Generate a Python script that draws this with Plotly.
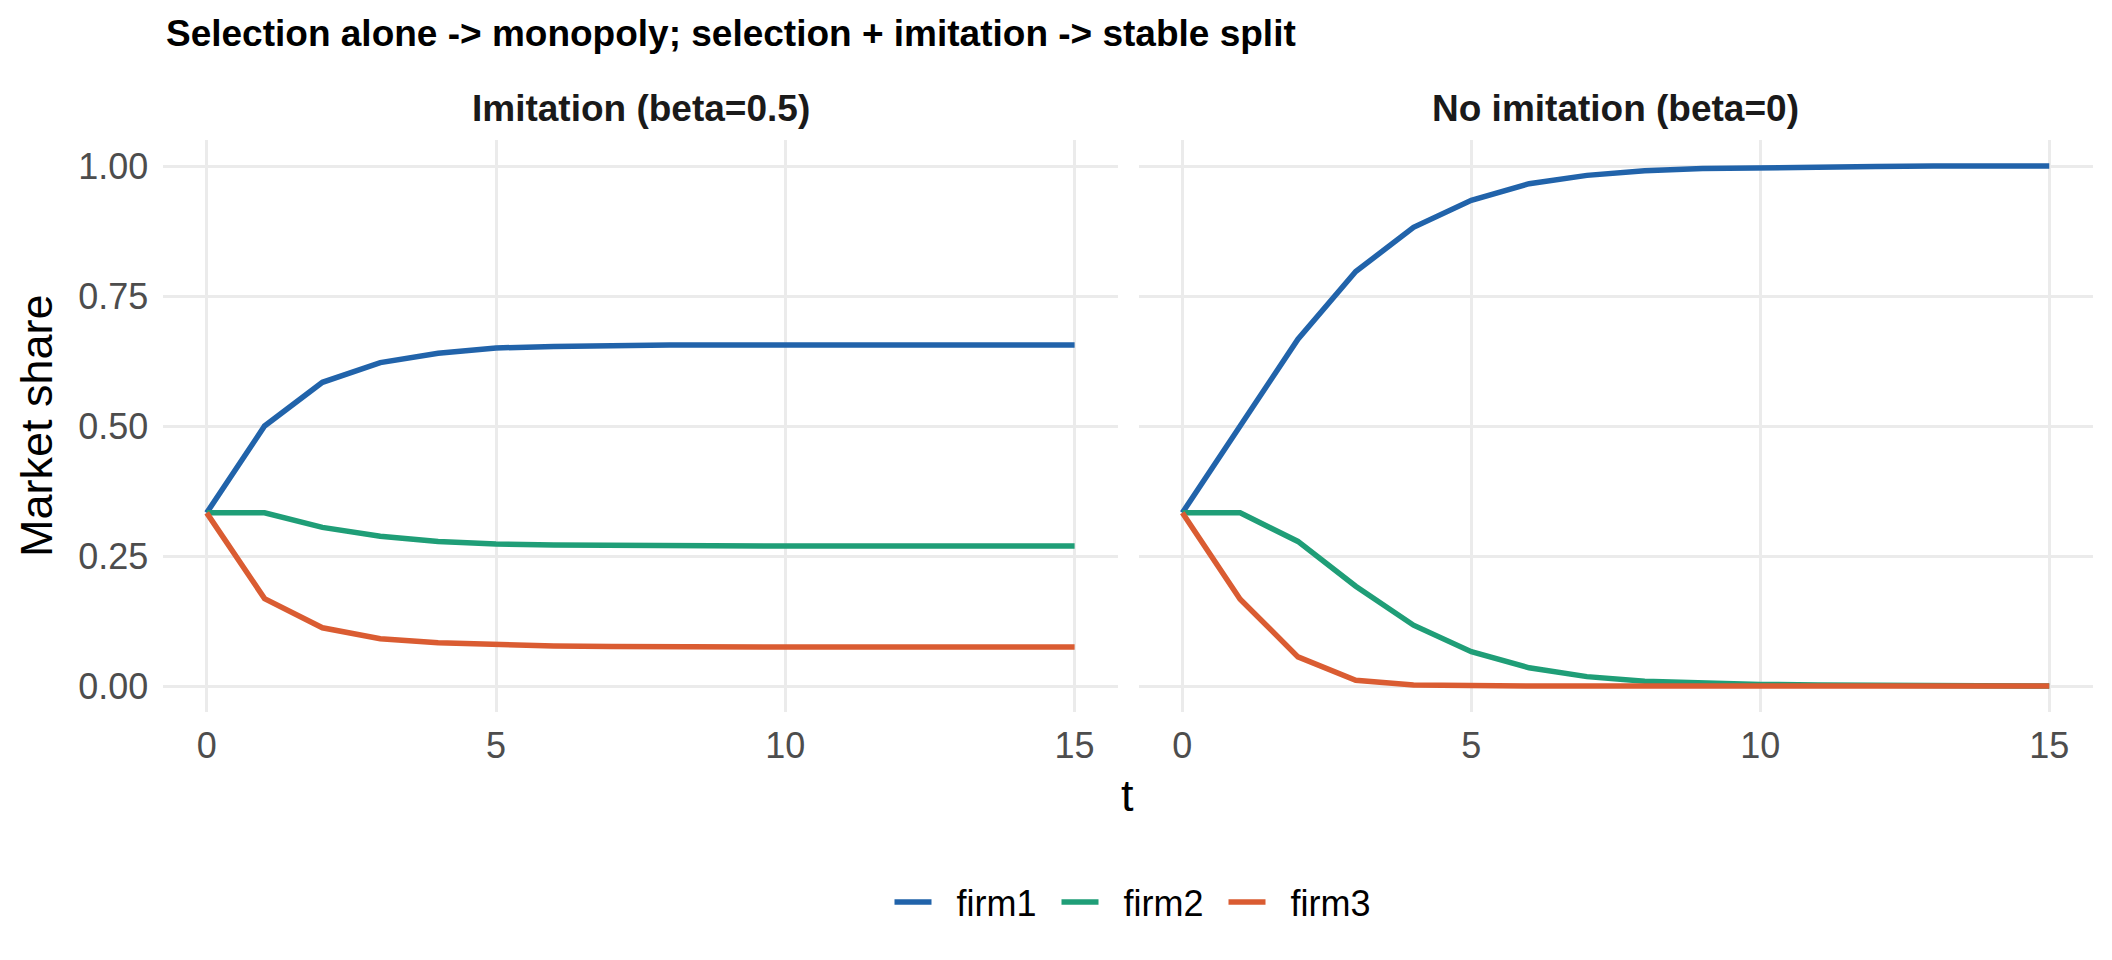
import plotly.graph_objects as go

# ---------------- data ----------------
t = list(range(16))
firms = ["firm1", "firm2", "firm3"]
colors = ["#2163AA", "#1F9E77", "#DA5C32"]

imit_firm1 = [0.333, 0.500, 0.584, 0.622, 0.640, 0.650, 0.653, 0.655, 0.656, 0.656,
              0.656, 0.656, 0.656, 0.656, 0.656, 0.656]
imit_firm2 = [0.333, 0.333, 0.305, 0.288, 0.278, 0.273, 0.271, 0.270, 0.269, 0.269,
              0.269, 0.269, 0.269, 0.269, 0.269, 0.269]
imit_firm3 = [0.333, 0.168, 0.112, 0.091, 0.083, 0.079, 0.077, 0.076, 0.075, 0.075,
              0.075, 0.075, 0.075, 0.075, 0.075, 0.075]

noimit_firm1 = [0.333, 0.500, 0.667, 0.797, 0.882, 0.934, 0.966, 0.982, 0.991, 0.995,
                0.997, 0.998, 0.999, 1.000, 1.000, 1.000]
noimit_firm2 = [0.333, 0.333, 0.278, 0.192, 0.117, 0.066, 0.035, 0.018, 0.009, 0.005,
                0.003, 0.002, 0.001, 0.000, 0.000, 0.000]
noimit_firm3 = [0.333, 0.167, 0.056, 0.011, 0.002, 0.000, 0.000, 0.000, 0.000, 0.000,
                0.000, 0.000, 0.000, 0.000, 0.000, 0.000]

panel_titles = ["Imitation (beta=0.5)", "No imitation (beta=0)"]
main_title = "Selection alone -> monopoly; selection + imitation -> stable split"
x_ticks = [0, 5, 10, 15]
y_ticks = [0.00, 0.25, 0.50, 0.75, 1.00]
y_ticklabels = ["0.00", "0.25", "0.50", "0.75", "1.00"]

# ---------------- figure ----------------
W, H = 2112, 960
FONT = "Liberation Sans, Arial, Helvetica, sans-serif"
GAP = "\u00a0\u00a0"  # small gap between legend key and label

fig = go.Figure()

panels = [
    ("x", "y", [imit_firm1, imit_firm2, imit_firm3], True),
    ("x2", "y2", [noimit_firm1, noimit_firm2, noimit_firm3], False),
]
for xa, ya, series, show in panels:
    for name, col, vals in zip(firms, colors, series):
        fig.add_trace(go.Scatter(
            x=t, y=vals, mode="lines", name=GAP + name,
            line=dict(color=col, width=5.5),
            xaxis=xa, yaxis=ya, showlegend=show, legendgroup=name,
        ))

def px_x(p):
    return p / W

def px_y(p):
    return 1 - p / H

left_dom = [px_x(163.3), px_x(1118.0)]
right_dom = [px_x(1139.0), px_x(2092.6)]
y_dom = [px_y(712.0), px_y(140.0)]

common_x = dict(
    range=[-0.75, 15.75], tickvals=x_ticks, ticktext=[str(v) for v in x_ticks],
    showgrid=True, gridcolor="#EBEBEB", gridwidth=2.8, zeroline=False,
    showline=False, ticks="", tickfont=dict(family=FONT, size=36, color="#4D4D4D"),
    ticklabelstandoff=9, fixedrange=True,
)
common_y = dict(
    range=[-0.05, 1.05], tickvals=y_ticks, ticktext=y_ticklabels,
    showgrid=True, gridcolor="#EBEBEB", gridwidth=2.8, zeroline=False,
    showline=False, ticks="", tickfont=dict(family=FONT, size=36, color="#4D4D4D"),
    domain=y_dom, fixedrange=True,
)

fig.update_layout(
    width=W, height=H,
    margin=dict(l=0, r=0, t=0, b=0),
    paper_bgcolor="white", plot_bgcolor="white",
    font=dict(family=FONT),
    xaxis=dict(domain=left_dom, anchor="y", **common_x),
    xaxis2=dict(domain=right_dom, anchor="y2", **common_x),
    yaxis=dict(anchor="x", showticklabels=True, ticklabelstandoff=14, **common_y),
    yaxis2=dict(anchor="x2", showticklabels=False, matches="y", **common_y),
    legend=dict(
        orientation="h", x=px_x(1140), xanchor="center", y=px_y(902), yanchor="middle",
        font=dict(family=FONT, size=36, color="black"),
        itemwidth=37, entrywidth=115, entrywidthmode="pixels",
        tracegroupgap=0, bgcolor="rgba(0,0,0,0)",
    ),
    showlegend=True,
)

annotations = [
    dict(text="<b>" + main_title + "</b>", x=px_x(164), y=px_y(34), xref="paper", yref="paper",
         xanchor="left", yanchor="middle", showarrow=False,
         font=dict(family=FONT, size=37, color="black")),
    dict(text="<b>" + panel_titles[0] + "</b>", x=(left_dom[0] + left_dom[1]) / 2, y=px_y(108),
         xref="paper", yref="paper", xanchor="center", yanchor="middle", showarrow=False,
         font=dict(family=FONT, size=37, color="#1A1A1A")),
    dict(text="<b>" + panel_titles[1] + "</b>", x=(right_dom[0] + right_dom[1]) / 2, y=px_y(108),
         xref="paper", yref="paper", xanchor="center", yanchor="middle", showarrow=False,
         font=dict(family=FONT, size=37, color="#1A1A1A")),
    dict(text="Market share", x=px_x(36), y=(y_dom[0] + y_dom[1]) / 2, xref="paper", yref="paper",
         xanchor="center", yanchor="middle", textangle=-90, showarrow=False,
         font=dict(family=FONT, size=45, color="black")),
    dict(text="t", x=(left_dom[0] + right_dom[1]) / 2, y=px_y(795), xref="paper", yref="paper",
         xanchor="center", yanchor="middle", showarrow=False,
         font=dict(family=FONT, size=45, color="black")),
]
fig.update_layout(annotations=annotations)

fig.write_html("out.html", config={"displayModeBar": False},
               post_script="document.body.style.margin='0';")
